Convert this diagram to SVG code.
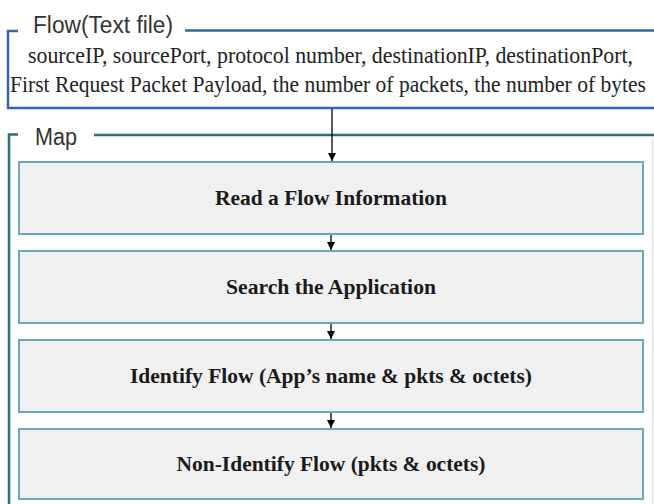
<svg xmlns="http://www.w3.org/2000/svg" width="654" height="504" viewBox="0 0 654 504">
<defs>
<marker id="ah" viewBox="0 0 10 10" refX="10" refY="5" markerWidth="8" markerHeight="8" markerUnits="userSpaceOnUse" orient="auto">
<path d="M0,0 L10,5 L0,10 Z" fill="#000"/>
</marker>
<style>
.hdr{font-family:"Liberation Sans",Arial,sans-serif;font-size:23px;fill:#333}
.flowtxt{font-family:"Liberation Serif","Times New Roman",serif;font-size:24px;fill:#222}
.box{fill:#f0f0f0;stroke:#6aa9ba;stroke-width:2}
.btxt{font-family:"Liberation Serif","Times New Roman",serif;font-size:22px;font-weight:bold;fill:#1a1a1a;text-anchor:middle}
.conn{stroke:#000;stroke-width:1.3;fill:none;marker-end:url(#ah)}
</style>
</defs>
<rect width="654" height="504" fill="#fff"/>
<g id="flow-frame">
<path d="M18,31 H8 V108 H654" fill="none" stroke="#3565b0" stroke-width="2.5"/>
<path d="M185,30.5 H654" fill="none" stroke="#3565b0" stroke-width="2.5"/>
<text class="hdr" x="33" y="33" textLength="140" lengthAdjust="spacingAndGlyphs">Flow(Text file)</text>
<text class="flowtxt" x="28" y="63" textLength="605" lengthAdjust="spacingAndGlyphs">sourceIP, sourcePort, protocol number, destinationIP, destinationPort,</text>
<text class="flowtxt" x="10" y="92" textLength="636" lengthAdjust="spacingAndGlyphs">First Request Packet Payload, the number of packets, the number of bytes</text>
</g>
<g id="map-frame">
<path d="M18,134.5 H9 V504" fill="none" stroke="#2d6f7d" stroke-width="2.5"/>
<path d="M94,135 H654" fill="none" stroke="#2d6f7d" stroke-width="2.5"/>
<line x1="652.5" y1="136" x2="652.5" y2="504" stroke="#dde4e6" stroke-width="1.5"/>
<text class="hdr" x="35" y="145" textLength="42" lengthAdjust="spacingAndGlyphs">Map</text>
</g>
<g id="read">
<rect class="box" x="19" y="162" width="624" height="72"/>
<text class="btxt" x="331" y="205" textLength="232" lengthAdjust="spacingAndGlyphs">Read a Flow Information</text>
</g>
<g id="search">
<rect class="box" x="19" y="251" width="624" height="72"/>
<text class="btxt" x="331" y="294" textLength="210" lengthAdjust="spacingAndGlyphs">Search the Application</text>
</g>
<g id="identify">
<rect class="box" x="19" y="340" width="624" height="72"/>
<text class="btxt" x="331" y="383" textLength="402" lengthAdjust="spacingAndGlyphs">Identify Flow (App’s name &amp; pkts &amp; octets)</text>
</g>
<g id="nonidentify">
<rect class="box" x="19" y="429" width="624" height="70"/>
<text class="btxt" x="331" y="471" textLength="309" lengthAdjust="spacingAndGlyphs">Non-Identify Flow (pkts &amp; octets)</text>
</g>
<g id="connectors">
<line class="conn" x1="332" y1="109" x2="332" y2="161"/>
<line class="conn" x1="331" y1="235" x2="331" y2="250"/>
<line class="conn" x1="331" y1="324" x2="331" y2="339"/>
<line class="conn" x1="331" y1="413" x2="331" y2="428"/>
</g>
</svg>
